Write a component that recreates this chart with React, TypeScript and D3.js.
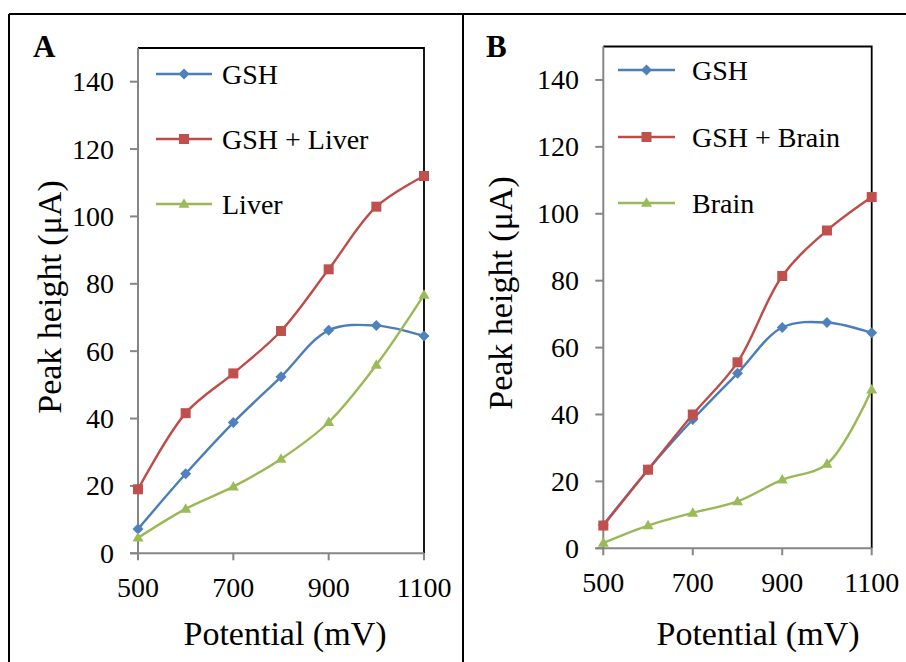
import React from "react";
import * as d3 from "d3";

const potentials = [500, 600, 700, 800, 900, 1000, 1100];
const xTicks = [500, 700, 900, 1100];
const yTicks = [0, 20, 40, 60, 80, 100, 120, 140];

const gshA = [7.2, 23.6, 38.8, 52.4, 66.2, 67.6, 64.5];
const gshLiver = [19.0, 41.6, 53.4, 66.0, 84.3, 102.9, 112.0];
const liver = [4.6, 13.2, 19.8, 28.0, 38.9, 55.9, 76.7];

const gshB = [7.0, 23.5, 38.5, 52.3, 66.0, 67.5, 64.4];
const gshBrain = [6.8, 23.5, 40.0, 55.6, 81.4, 95.0, 105.0];
const brain = [1.6, 6.8, 10.6, 14.0, 20.5, 25.2, 47.4];

const labelsA = ["GSH", "GSH + Liver", "Liver"];
const labelsB = ["GSH", "GSH + Brain", "Brain"];

const lineColors = ["#4A7EBB", "#BE4B48", "#98B954"];
const markerColors = ["#4F81BD", "#C0504D", "#9BBB59"];
const markerShapes = ["diamond", "square", "triangle"];

const FONT = "Liberation Serif";

function Marker({ shape, x, y, color }: { shape: string; x: number; y: number; color: string }) {
  if (shape === "diamond") {
    const r = 5.5;
    return <polygon points={`${x},${y - r} ${x + r},${y} ${x},${y + r} ${x - r},${y}`} fill={color} />;
  }
  if (shape === "square") {
    const s = 10;
    return <rect x={x - s / 2} y={y - s / 2} width={s} height={s} fill={color} />;
  }
  const w = 11;
  const h = 9.5;
  return <polygon points={`${x},${y - h * 0.6} ${x + w / 2},${y + h * 0.4} ${x - w / 2},${y + h * 0.4}`} fill={color} />;
}

type PanelProps = {
  letter: string;
  letterX: number;
  left: number;
  right: number;
  top: number;
  bottom: number;
  series: number[][];
  labels: string[];
  yLabelRight: number;
  yTitleX: number;
  yTitleY: number;
  xTitleX: number;
  legendX0: number;
  legendX1: number;
  legendTextX: number;
  legendRows: number[];
};

function Panel(p: PanelProps) {
  const x = d3.scaleLinear().domain([500, 1100]).range([p.left, p.right]);
  const y = d3.scaleLinear().domain([0, 150]).range([p.bottom, p.top]);
  const line = d3
    .line<number>()
    .x((_, i) => x(potentials[i]))
    .y((v) => y(v))
    .curve(d3.curveCatmullRom.alpha(0.5));

  return (
    <g>
      <text x={p.letterX} y={57} style={{ fontFamily: FONT, fontSize: 31, fontWeight: "bold" }} fill="#000">
        {p.letter}
      </text>
      <path d={`M${p.left},${p.top} H${p.right} V${p.bottom}`} fill="none" stroke="#000" strokeWidth={1.8} />
      <line x1={p.left} x2={p.left} y1={p.top} y2={p.bottom} stroke="#868686" strokeWidth={2} />
      <line x1={p.left - 8} x2={p.right} y1={p.bottom} y2={p.bottom} stroke="#868686" strokeWidth={2} />
      {yTicks.map((t) => (
        <g key={"y" + t}>
          <line x1={p.left - 8} x2={p.left} y1={y(t)} y2={y(t)} stroke="#868686" strokeWidth={2} />
          <text
            x={p.yLabelRight}
            y={y(t) + 9.5}
            textAnchor="end"
            style={{ fontFamily: FONT, fontSize: 28 }}
            fill="#000"
          >
            {t}
          </text>
        </g>
      ))}
      {xTicks.map((t) => (
        <g key={"x" + t}>
          <line x1={x(t)} x2={x(t)} y1={p.bottom} y2={p.bottom + 7} stroke="#868686" strokeWidth={2} />
          <text
            x={x(t)}
            y={p.bottom + 43.5}
            textAnchor="middle"
            style={{ fontFamily: FONT, fontSize: 28 }}
            fill="#000"
          >
            {t}
          </text>
        </g>
      ))}
      <text x={p.xTitleX} y={645} textAnchor="middle" style={{ fontFamily: FONT, fontSize: 34 }} fill="#000">
        Potential (mV)
      </text>
      <text
        transform={`translate(${p.yTitleX + 11},${p.yTitleY}) rotate(-90)`}
        textAnchor="middle"
        style={{ fontFamily: FONT, fontSize: 34 }}
        fill="#000"
      >
        Peak height (μA)
      </text>
      {p.series.map((s, si) => (
        <g key={"s" + si}>
          <path d={line(s) || ""} fill="none" stroke={lineColors[si]} strokeWidth={2.4} />
          {s.map((v, i) => (
            <Marker key={i} shape={markerShapes[si]} x={x(potentials[i])} y={y(v)} color={markerColors[si]} />
          ))}
        </g>
      ))}
      {p.labels.map((lab, li) => (
        <g key={"l" + li}>
          <line
            x1={p.legendX0}
            x2={p.legendX1}
            y1={p.legendRows[li]}
            y2={p.legendRows[li]}
            stroke={lineColors[li]}
            strokeWidth={2.4}
          />
          <Marker shape={markerShapes[li]} x={(p.legendX0 + p.legendX1) / 2} y={p.legendRows[li]} color={markerColors[li]} />
          <text
            x={p.legendTextX}
            y={p.legendRows[li] + 9.5}
            style={{ fontFamily: FONT, fontSize: 28 }}
            fill="#000"
          >
            {lab}
          </text>
        </g>
      ))}
    </g>
  );
}

export default function App() {
  return (
    <svg width={906} height={662} style={{ position: "fixed", left: 0, top: 0, background: "#fff" }}>
      <rect x={0} y={0} width={906} height={662} fill="#fff" />
      <line x1={9} x2={906} y1={14} y2={14} stroke="#000" strokeWidth={2} />
      <line x1={9} x2={9} y1={14} y2={662} stroke="#000" strokeWidth={2} />
      <line x1={463} x2={463} y1={14} y2={662} stroke="#000" strokeWidth={2} />
      <Panel
        letter="A"
        letterX={33}
        left={138}
        right={424}
        top={48}
        bottom={553.3}
        series={[gshA, gshLiver, liver]}
        labels={labelsA}
        yLabelRight={114}
        yTitleX={50}
        yTitleY={297}
        xTitleX={285}
        legendX0={156}
        legendX1={212}
        legendTextX={222}
        legendRows={[74, 139, 204]}
      />
      <Panel
        letter="B"
        letterX={486}
        left={603.3}
        right={871.7}
        top={46.5}
        bottom={548.3}
        series={[gshB, gshBrain, brain]}
        labels={labelsB}
        yLabelRight={579}
        yTitleX={501}
        yTitleY={293}
        xTitleX={758}
        legendX0={618}
        legendX1={675}
        legendTextX={692}
        legendRows={[70, 137, 203]}
      />
    </svg>
  );
}
